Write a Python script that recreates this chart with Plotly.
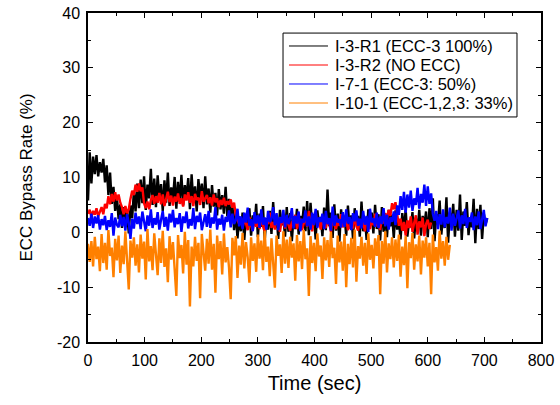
import numpy as np
import plotly.graph_objects as go

DT = 3.0  # sampling step of the read-off values (sec)

series_names = ["I-3-R1 (ECC-3 100%)", "I-3-R2 (NO ECC)", "I-7-1 (ECC-3: 50%)", "I-10-1 (ECC-1,2,3: 33%)"]
series_colors = ["#000000", "#FF0000", "#0000FF", "#FF8000"]

black_vals = [
    5.8, 14.6, 8.9, 13.8, 10.6, 14.1, 10.2, 12.8, 10.9, 13.4,
    9.1, 12.2, 6.8, 10.9, 5.2, 8.3, 3.9, 6.6, 2.4, 5.1,
    0.8, 4.6, 1.9, 3.8, -0.2, 4.9, 2.6, 7.4, 3.8, 8.9,
    4.4, 9.6, 5.3, 10.2, 4.1, 8.7, 6.2, 11.6, 5.0, 9.8,
    4.6, 10.4, 6.1, 8.8, 3.9, 9.5, 5.4, 10.9, 4.8, 8.2,
    6.0, 10.1, 4.3, 9.2, 5.6, 10.5, 4.9, 8.6, 6.4, 9.9,
    4.2, 10.6, 5.5, 8.4, 3.8, 9.7, 6.1, 8.9, 4.4, 10.2,
    5.1, 8.0, 3.6, 8.6, 4.7, 7.2, 3.1, 7.9, 4.2, 6.8,
    3.4, 8.3, 2.9, 6.1, 2.2, 5.0, 0.4, 3.8, -1.1, 2.9,
    0.2, 3.6, -1.4, 2.8, 0.9, 4.4, -0.6, 3.1, 1.2, 5.2,
    -0.9, 3.4, 1.0, 4.8, -1.5, 2.6, 0.5, 3.9, -0.3, 5.5,
    0.8, 3.2, -1.2, 4.1, 1.3, 2.7, -0.8, 4.6, 0.1, 3.5,
    -1.6, 2.9, 0.6, 4.3, -0.4, 3.0, 1.4, 4.7, 0.2, 5.7,
    -0.5, 5.4, 0.9, 3.3, -1.3, 4.0, 1.6, 2.8, -0.7, 4.5,
    0.4, 7.8, 1.1, 3.6, -1.0, 5.1, 0.3, 3.4, -1.7, 4.2,
    1.0, 2.9, -0.6, 4.9, 0.7, 3.1, -1.2, 4.4, 1.5, 3.0,
    -0.8, 5.6, 0.2, 2.7, -1.4, 4.2, 1.2, 3.6, -0.2, 5.0,
    0.6, 3.3, -1.5, 4.6, 0.1, 2.8, -0.9, 4.1, 1.1, 3.2,
    -1.0, 4.0, 0.5, 2.2, -1.3, 3.5, 0.3, 4.2, -0.8, 1.9,
    0.9, 3.7, -1.1, 2.6, 0.2, 4.1, -0.6, 3.0, 1.3, 3.8,
    -0.9, 4.4, 0.6, 6.2, -1.6, 3.3, 1.4, 5.8, -0.4, 2.9,
    0.8, 6.4, -1.9, 3.6, 1.7, 5.2, -0.8, 4.1, 0.3, 6.9,
    -1.4, 3.8, 1.2, 5.5, -0.5, 2.7, 0.9, 6.1, -2.0, 4.3,
    0.6, 5.0, -1.2, 3.4, 1.5, 2.6,
]

red_vals = [
    3.4, 4.1, 2.8, 3.9, 3.2, 4.4, 2.9, 3.7, 4.6, 3.3,
    5.2, 4.4, 6.6, 5.1, 7.0, 5.6, 7.3, 5.8, 6.9, 5.4,
    4.6, 3.3, 4.8, 3.5, 4.2, 6.1, 7.6, 6.8, 8.7, 7.4,
    8.9, 7.5, 8.2, 5.3, 4.4, 5.6, 4.2, 5.9, 6.8, 5.2,
    6.6, 5.4, 7.2, 5.1, 6.9, 4.8, 6.3, 7.4, 5.5, 6.7,
    4.9, 6.5, 5.6, 7.1, 5.2, 6.2, 4.7, 6.9, 5.8, 7.3,
    5.4, 6.6, 4.8, 7.0, 5.9, 6.3, 5.0, 7.5, 5.6, 6.1,
    6.8, 5.3, 6.4, 4.9, 6.9, 5.5, 6.2, 4.6, 5.9, 5.0,
    6.3, 4.8, 5.7, 5.1, 6.0, 4.5, 5.4, 3.1, 2.2, 1.5,
    2.6, 0.9, 2.1, 1.6, 0.4, 2.8, 1.2, 0.3, 2.4, 1.0,
    1.8, 0.6, 2.9, 1.1, 0.2, 2.3, 1.5, 3.6, 0.8, 1.9,
    0.5, 2.6, 1.3, 0.1, 2.2, 1.7, 0.7, 2.9, 1.4, 0.3,
    2.0, 1.2, 3.2, 0.6, 1.8, 2.5, 0.4, 1.6, 2.8, 1.0,
    3.9, 1.5, 0.2, 2.4, 3.8, 1.1, 2.0, 0.5, 2.7, 1.3,
    0.8, 2.3, 1.6, 0.1, 2.9, 1.4, 0.6, 2.1, 1.2, 3.3,
    0.9, 1.8, 2.6, 0.4, 1.5, 2.2, 0.7, 3.0, 1.1, 0.3,
    2.4, 1.0, 1.9, 0.2, 2.7, 1.5, 0.6, 2.3, 1.3, 3.4,
    1.1, 2.0, 0.4, 2.8, 1.6, 3.5, 2.4, 4.1, 3.0, 5.3,
    4.2, 5.5, 3.6, 1.2, 2.5, 0.3, 1.9, -0.6, 2.2, 0.8,
    2.9, 0.1, 1.7, 3.1, -0.4, 2.0, 0.9, 2.7, -0.7, 1.5,
    2.3, 0.6, 1.8,
]

blue_vals = [
    2.6, 1.2, 3.4, 0.8, 2.9, 1.6, 3.1, 0.5, 2.4, 1.3,
    3.0, 0.4, 2.2, 1.0, 3.5, -0.6, 2.7, 1.4, 0.9, 3.2,
    1.1, 2.8, 0.3, 3.3, 1.7, -1.2, 2.5, 0.7, 3.6, 1.5,
    2.9, 0.6, 3.8, 1.9, 0.2, 3.1, 1.2, 4.2, 0.8, 2.6,
    1.4, 3.7, 0.5, 2.3, 3.9, 1.0, 2.8, 0.3, 3.4, 1.8,
    4.1, 0.9, 2.6, 1.5, 3.5, 0.1, 2.9, 1.7, 3.8, 0.7,
    2.4, 1.2, 4.4, 0.6, 3.0, 1.9, 3.6, 0.4, 2.2, 3.3,
    1.0, 3.9, 0.8, 2.7, 1.6, 4.6, 0.5, 2.5, 1.4, 3.2,
    0.3, 2.8, 1.9, 4.0, 0.9, 3.4, 1.5, 2.2, 4.3, 1.1,
    2.9, 0.6, 3.6, 1.8, 4.5, 1.2, 2.4, 0.2, 3.7, 1.6,
    3.1, 0.8, 4.2, 1.4, 2.7, 0.5, 3.9, 1.9, 2.3, 4.6,
    1.3, 3.5, 0.4, 2.8, 1.7, 4.1, 0.9, 3.2, 1.5, 2.6,
    4.4, 0.7, 3.0, 1.6, 3.8, 0.2, 2.5, 1.8, 4.0, 1.1,
    2.9, 0.5, 3.6, 1.3, 4.3, 0.8, 2.7, 1.9, 3.4, 0.6,
    3.9, 1.5, 2.6, 0.3, 4.7, 1.2, 3.1, 1.8, 2.4, 0.9,
    3.7, 1.0, 4.2, 1.6, 2.8, 0.4, 3.5, 2.0, 4.0, 1.2,
    2.5, 0.7, 3.9, 1.4, 3.0, 0.1, 4.3, 1.8, 2.6, 1.0,
    3.6, 0.8, 2.9, 1.5, 4.4, 1.1, 3.2, 0.5, 2.7, 1.9,
    3.8, 1.3, 4.9, 3.2, 6.6, 4.1, 7.4, 3.6, 6.9, 4.5,
    7.6, 3.9, 6.2, 5.0, 8.1, 4.3, 7.0, 5.4, 8.7, 4.8,
    8.4, 5.2, 7.1, 3.4, 2.1, 3.9, 0.6, 3.3, 1.4, 4.2,
    0.9, 2.8, 1.6, 4.5, 0.3, 3.4, 1.2, 2.6, 4.0, 0.7,
    3.1, 1.5, 4.3, 0.8, 2.7, 1.9, 3.6, 0.4, 2.9, 1.3,
    3.8, 0.6, 2.4, 4.1, 1.1, 2.6,
]

orange_vals = [
    -2.1, -5.4, -1.6, -6.2, -0.8, -4.9, -2.6, -7.1, -0.3, -5.6,
    -1.9, -6.8, 0.4, -4.3, -2.8, -8.2, -1.2, -5.1, -0.6, -7.4,
    -2.4, -5.8, 0.2, -6.5, -10.4, -1.5, -4.6, -0.9, -6.1, -2.2,
    -7.3, -0.4, -4.8, -1.7, -8.6, 0.6, -5.3, -2.5, -6.9, -0.2,
    -4.4, -7.8, -1.1, -5.6, 0.3, -6.3, -2.9, -9.1, -0.7, -5.0,
    -1.8, -6.6, -11.6, -0.5, -4.7, -2.3, -7.5, 0.1, -5.9, -1.4,
    -13.5, -2.6, -6.2, -0.8, -5.2, -1.9, -12.0, -0.3, -4.4, -7.0,
    -1.2, -5.7, 0.5, -6.8, -2.1, -11.0, -0.6, -4.9, -1.6, -7.7,
    -0.2, -5.5, -2.7, -6.4, -12.2, -1.0, -4.2, -0.7, -8.3, -2.4,
    -5.9, -0.1, -6.6, -1.8, -4.5, -9.2, -0.9, -5.2, -2.0, -7.2,
    -0.4, -4.8, -1.5, -6.9, 0.3, -5.4, -2.6, -8.0, -1.1, -5.8,
    -10.1, -0.6, -4.3, -2.2, -7.4, 0.2, -5.7, -1.3, -6.5, -0.8,
    -4.6, -2.0, -8.8, -0.5, -5.3, -1.6, -6.7, 0.4, -4.9, -2.9,
    -11.6, -0.7, -5.6, -1.9, -7.1, -0.2, -4.4, -2.4, -8.5, -0.9,
    -5.1, -1.4, -6.3, 0.1, -4.7, -2.8, -9.4, -0.6, -5.5, -1.7,
    -7.0, -0.3, -10.0, -2.1, -5.8, -1.0, -6.4, 0.5, -9.0, -2.5,
    -4.8, -0.8, -6.1, -1.9, -7.6, -0.2, -5.0, -2.3, -6.6, -1.1,
    -4.3, -0.5, -11.3, -1.6, -5.7, 0.2, -7.3, -2.0, -4.9, -0.9,
    -6.4, -1.3, -5.2, -0.4, -8.1, -2.6, -6.0, -0.7, -10.2, -1.8,
    -4.7, -0.1, -6.8, -2.2, -5.3, -0.6, -7.7, -1.5, -4.6, -0.9,
    -6.2, -1.9, -11.3, -0.4, -5.5, -2.7, -7.0, 0.3, -4.8, -1.6,
    -6.1, -0.8, -5.0, -2.3,
]

all_vals = [black_vals, red_vals, blue_vals, orange_vals]

x_ticks = [0, 100, 200, 300, 400, 500, 600, 700, 800]
y_ticks = [-20, -10, 0, 10, 20, 30, 40]

FONT = "Liberation Sans, Arial, sans-serif"

fig = go.Figure()
for name, color, vals in zip(series_names, series_colors, all_vals):
    t = np.arange(len(vals)) * DT
    fig.add_trace(go.Scatter(x=t, y=vals, mode="lines", name=name, showlegend=False,
                             line=dict(color=color, width=2.4)))

axis_common = dict(
    showline=True, linecolor="black", linewidth=1.5, mirror="ticks",
    ticks="inside", ticklen=5, tickwidth=1.2, tickcolor="black",
    showgrid=False, zeroline=False, automargin=False,
    ticklabelstandoff=3, ticklabeloverflow="allow",
    tickfont=dict(family=FONT, size=16, color="black"),
)

fig.update_xaxes(range=[0, 800], tickvals=x_ticks, ticktext=[str(v) for v in x_ticks],
                 minor=dict(dtick=50, ticks="inside", ticklen=3, tickcolor="black", tickwidth=1),
                 title=dict(text="Time (sec)", font=dict(family=FONT, size=20, color="black"), standoff=8),
                 **axis_common)
fig.update_yaxes(range=[-20, 40], tickvals=y_ticks, ticktext=[str(v) for v in y_ticks],
                 minor=dict(dtick=5, ticks="inside", ticklen=3, tickcolor="black", tickwidth=1),
                 title=dict(text="ECC Bypass Rate (%)", font=dict(family=FONT, size=17, color="black"), standoff=20),
                 **axis_common)

# Legend box drawn as a framed key (paper coordinates), entries = real text
LEG_X0, LEG_X1, LEG_Y0, LEG_Y1 = 0.4305, 0.947, 0.684, 0.939
LEG_ROWS = [0.8997, 0.8419, 0.7842, 0.7264]
shapes = [dict(type="rect", xref="paper", yref="paper", x0=LEG_X0, x1=LEG_X1, y0=LEG_Y0, y1=LEG_Y1,
               line=dict(color="black", width=1), fillcolor="white", layer="above")]
annotations = []
for name, color, ry in zip(series_names, series_colors, LEG_ROWS):
    shapes.append(dict(type="line", xref="paper", yref="paper", x0=0.4437, x1=0.5298, y0=ry, y1=ry,
                       line=dict(color=color, width=1), layer="above"))
    annotations.append(dict(text=name, xref="paper", yref="paper", x=0.541, y=ry,
                            xanchor="left", yanchor="middle", showarrow=False,
                            font=dict(family=FONT, size=16.5, color="black")))

fig.update_layout(
    width=560, height=405,
    margin=dict(l=88, r=19, t=13, b=63),
    plot_bgcolor="white", paper_bgcolor="white",
    font=dict(family=FONT, color="black"),
    shapes=shapes, annotations=annotations,
    showlegend=False,
)

# remove the browser's default 8px body margin so the figure sits at the page corner
fig.write_html("out.html", config={"displayModeBar": False},
               post_script="document.body.style.margin='0px';")
